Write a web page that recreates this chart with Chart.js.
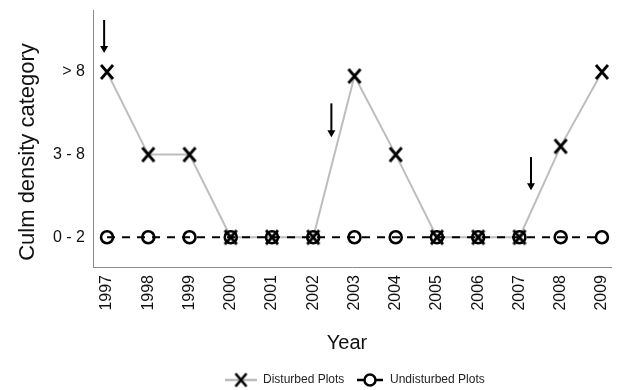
<!DOCTYPE html>
<html>
<head>
<meta charset="utf-8">
<script src="https://cdn.jsdelivr.net/npm/chart.js@4"></script>
<style>
  html, body { margin: 0; padding: 0; background: #fff; }
  #wrap { width: 620px; height: 390px; }
</style>
</head>
<body>
<div id="wrap"><canvas id="chart" width="620" height="390"></canvas></div>
<script>
// Survey years
const years = [1997, 1998, 1999, 2000, 2001, 2002, 2003, 2004, 2005, 2006, 2007, 2008, 2009];
// Culm density classes, indexed 0, 1, 2 on the value axis
const categoryLabels = ['0 - 2', '3 - 8', '> 8'];
// Mean density class per year
const disturbed   = [2, 1, 1, 0, 0, 0, 1.95, 1, 0, 0, 0, 1.1, 2];
const undisturbed = [0, 0, 0, 0, 0, 0, 0, 0, 0, 0, 0, 0, 0];
// Disturbance events: arrow position (year) and its vertical span in class units
const arrowYears = [1996.93, 2002.44, 2007.28];
const arrowFrom  = [2.63, 1.62, 0.97];
const arrowTo    = [2.23, 1.21, 0.57];

const seriesNames = ['Disturbed Plots', 'Undisturbed Plots'];
const FONT = '"Liberation Sans", Arial, sans-serif';

// "X" marker drawn as a small canvas so it is taller than wide, like a letter X
function makeXMarker(w, h, lw) {
  const c = document.createElement('canvas');
  c.width = w + 4; c.height = h + 4;
  const g = c.getContext('2d');
  g.strokeStyle = '#000';
  g.lineWidth = lw;
  g.lineCap = 'butt';
  g.beginPath();
  g.moveTo(2, 2); g.lineTo(w + 2, h + 2);
  g.moveTo(w + 2, 2); g.lineTo(2, h + 2);
  g.stroke();
  return c;
}
const xMarker = makeXMarker(12, 14, 2.8);
const xMarkerSmall = makeXMarker(11, 13, 2.6);

const pairs = (vals) => years.map((y, i) => ({ x: y, y: vals[i] }));

// Axis titles, event arrows and the legend
const decorations = {
  id: 'decorations',
  afterDatasetsDraw(chart) {
    const { ctx, scales: { x, y } } = chart;
    ctx.save();
    // event arrows
    ctx.strokeStyle = '#000';
    ctx.fillStyle = '#000';
    ctx.lineWidth = 2;
    arrowYears.forEach((yr, i) => {
      const px = x.getPixelForValue(yr);
      const y0 = y.getPixelForValue(arrowFrom[i]);
      const y1 = y.getPixelForValue(arrowTo[i]);
      ctx.beginPath();
      ctx.moveTo(px, y0);
      ctx.lineTo(px, y1 - 6);
      ctx.stroke();
      ctx.beginPath();
      ctx.moveTo(px - 4, y1 - 7);
      ctx.lineTo(px + 4, y1 - 7);
      ctx.lineTo(px, y1);
      ctx.closePath();
      ctx.fill();
    });
    ctx.restore();
  },
  afterDraw(chart) {
    const { ctx } = chart;
    ctx.save();
    ctx.fillStyle = '#111';
    // value axis title
    ctx.save();
    ctx.translate(28, 152);
    ctx.rotate(-Math.PI / 2);
    ctx.font = '22px ' + FONT;
    ctx.textAlign = 'center';
    ctx.textBaseline = 'middle';
    ctx.fillText('Culm density category', 0, 0);
    ctx.restore();
    // year axis title
    ctx.font = '20px ' + FONT;
    ctx.textAlign = 'center';
    ctx.textBaseline = 'middle';
    ctx.fillText('Year', 347, 343);

    // legend
    const ly = 380;
    ctx.lineWidth = 2.5;
    ctx.strokeStyle = '#bdbdbd';
    ctx.beginPath(); ctx.moveTo(225, ly); ctx.lineTo(257, ly); ctx.stroke();
    ctx.drawImage(xMarkerSmall, 241 - xMarkerSmall.width / 2, ly - xMarkerSmall.height / 2);
    ctx.font = '12px ' + FONT;
    ctx.textAlign = 'left';
    ctx.fillStyle = '#222';
    ctx.fillText(seriesNames[0], 263, ly);

    ctx.strokeStyle = '#000';
    ctx.beginPath(); ctx.moveTo(357, ly); ctx.lineTo(383, ly); ctx.stroke();
    ctx.beginPath();
    ctx.arc(370, ly, 5.5, 0, Math.PI * 2);
    ctx.fillStyle = '#fff';
    ctx.fill();
    ctx.stroke();
    ctx.fillStyle = '#222';
    ctx.fillText(seriesNames[1], 390, ly);
    ctx.restore();
  }
};

new Chart(document.getElementById('chart'), {
  type: 'line',
  data: {
    datasets: [
      {
        label: seriesNames[1],
        data: pairs(undisturbed),
        borderColor: '#000',
        borderWidth: 2,
        borderDash: [8, 7],
        pointStyle: 'circle',
        pointRadius: 6,
        pointBorderWidth: 2.6,
        pointBorderColor: '#000',
        pointBackgroundColor: 'rgba(0,0,0,0)',
        tension: 0,
        order: 0
      },
      {
        label: seriesNames[0],
        data: pairs(disturbed),
        borderColor: '#bdbdbd',
        borderWidth: 2,
        pointStyle: xMarker,
        pointRadius: 7,
        tension: 0,
        order: 1
      }
    ]
  },
  options: {
    responsive: false,
    animation: false,
    devicePixelRatio: 1,
    layout: { padding: { top: 10, right: 8, bottom: 30, left: 0 } },
    plugins: {
      legend: { display: false },
      tooltip: { enabled: false }
    },
    scales: {
      x: {
        type: 'linear',
        min: 1996.66,
        max: 2009.22,
        afterBuildTicks(scale) { scale.ticks = years.map(v => ({ value: v })); },
        afterFit(scale) {
          scale.height = 93;
          scale.paddingLeft = 0;
          scale.paddingRight = 0;
        },
        grid: { display: false, drawTicks: false },
        border: { display: true, color: '#8c8c8c', width: 1 },
        ticks: {
          autoSkip: false,
          minRotation: 90,
          maxRotation: 90,
          padding: 8,
          color: '#111',
          font: { size: 16, family: FONT },
          callback: v => String(v)
        }
      },
      y: {
        type: 'linear',
        min: -0.36,
        max: 2.75,
        afterBuildTicks(scale) { scale.ticks = categoryLabels.map((_, i) => ({ value: i })); },
        afterFit(scale) {
          scale.width = 93;
          scale.paddingTop = 0;
          scale.paddingBottom = 0;
        },
        grid: { display: false, drawTicks: false },
        border: { display: true, color: '#8c8c8c', width: 1 },
        ticks: {
          padding: 8,
          color: '#111',
          font: { size: 16, family: FONT },
          callback: v => categoryLabels[v] ?? ''
        }
      }
    }
  },
  plugins: [decorations]
});
</script>
</body>
</html>
